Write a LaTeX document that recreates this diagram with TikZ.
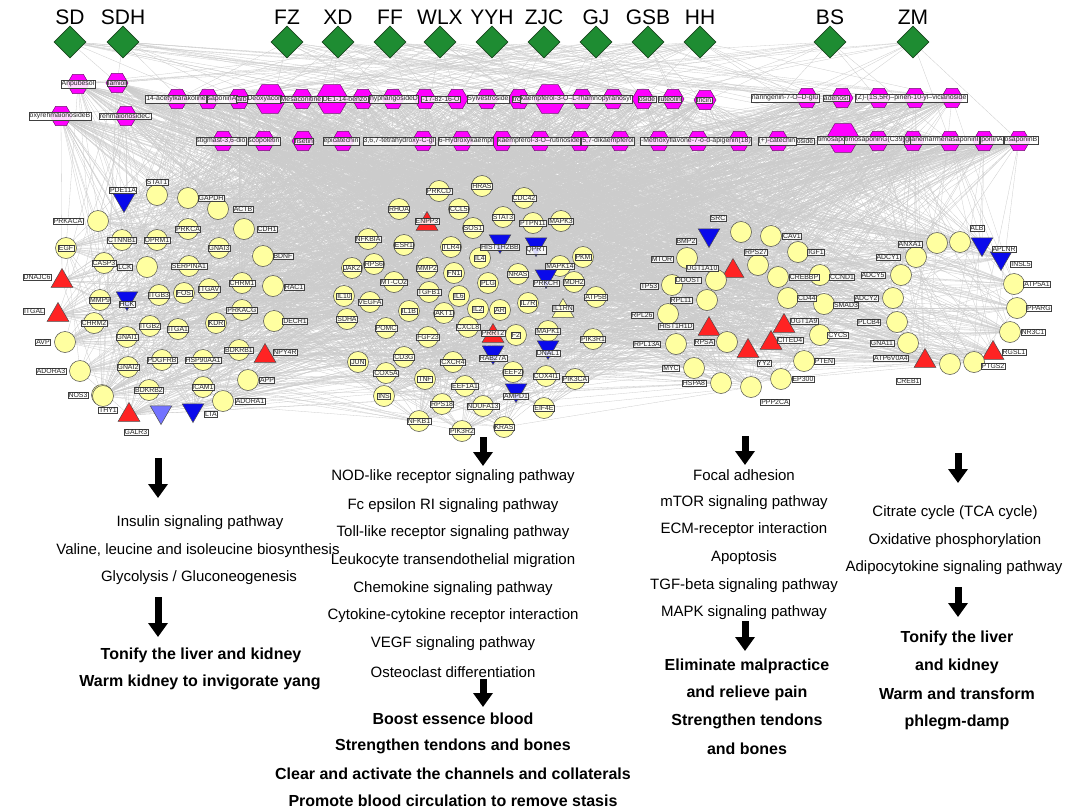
\documentclass[tikz,border=0pt]{standalone}
\usepackage{fontspec}
\setmainfont{Liberation Sans}
\usetikzlibrary{shapes.geometric,arrows.meta,backgrounds}
\definecolor{herbg}{RGB}{30,140,50}
\definecolor{herbd}{RGB}{25,70,30}
\definecolor{mag}{RGB}{255,0,255}
\definecolor{magd}{RGB}{110,20,110}
\definecolor{ylw}{RGB}{255,255,160}
\definecolor{redt}{RGB}{255,35,35}
\definecolor{bluet}{RGB}{10,10,235}
\definecolor{lbluet}{RGB}{115,115,255}
\definecolor{edgec}{RGB}{204,204,204}
\tikzset{
  herb/.style={diamond, aspect=1, fill=herbg, draw=herbd, line width=0.6pt, inner sep=0pt, minimum width=32pt, minimum height=32pt},
  herblab/.style={font=\fontsize{21}{24}\selectfont},
  hexa/.style={regular polygon, regular polygon sides=6, fill=mag, draw=magd, line width=0.5pt, inner sep=0pt, minimum size=22pt},
  bighexa/.style={hexa, minimum size=33pt},
  lab/.style={draw=black!75, fill=white, fill opacity=0.85, text opacity=1, text=black!85, line width=0.5pt, inner sep=0.7pt, font=\fontsize{6.9}{7}\selectfont},
  pc/.style={circle, fill=ylw, draw=black!70, line width=0.5pt, minimum size=21pt, inner sep=0pt},
  pr/.style={regular polygon, regular polygon sides=3, fill=redt, draw=black!70, line width=0.5pt, minimum size=25pt, inner sep=0pt, yshift=-3pt},
  py/.style={pr, fill=ylw},
  pb/.style={regular polygon, regular polygon sides=3, shape border rotate=180, fill=bluet, draw=black!70, line width=0.5pt, minimum size=25pt, inner sep=0pt, yshift=3pt},
  plb/.style={pb, fill=lbluet},
  link/.style={draw=edgec, line width=0.3pt},
  txt/.style={font=\fontsize{15}{18}\selectfont},
  btxt/.style={font=\bfseries\fontsize{16}{18}\selectfont},
  bigarrow/.style={line width=7pt, -{Triangle[length=14pt, width=19pt]}},
}
\def\plist{%
157/195/pc/STAT1/157/182,
124/203/pb/PDE11A/123/190,
188/198/pc/GAPDH/211/198,
218/209/pc/ACTB/243/209,
98/221/pc/PRKACA/68/221,
188/229/pc/PRKCA/188/229,
244/229/pc/CDH1/267/229,
66/248/pc/EGF/66/248,
122/240/pc/CTNNB1/122/240,
157/240/pc/OPRM1/157/240,
219/248/pc/GNAI3/219/248,
263/256/pc/BDNF/283/256,
104/263/pc/CASP3/104/263,
147/267/pc/LCK/125/267,
189/266/pc/SERPINA1/189/266,
62/278/pr/DNAJC6/37/277,
242/283/pc/CHRM1/242/283,
273/286/pc/RAC1/294/287,
100/300/pc/MMP9/100/300,
127/301/pb/HCK/127/304,
159/295/pc/ITGB3/159/295,
184/293/pc/FOS/184/293,
209/289/pc/ITGAV/209/289,
58/312/pr/ITGAL/34/311,
242/310/pc/PRKACG/242/310,
94/323/pc/CHRM2/94/323,
127/337/pc/GNAI1/127/337,
150/326/pc/ITGB2/150/326,
178/329/pc/ITGA1/178/329,
216/323/pc/KDR/216/323,
274/321/pc/DECR1/295/321,
65/342/pc/AVP/43/342,
162/360/pc/PDGFRB/162/360,
203/360/pc/HSP90AA1/203/360,
239/350/pc/BDKRB1/239/350,
265/353/pr/NPY4R/285/352,
80/371/pc/ADORA3/51/371,
128/367/pc/GNAI2/128/367,
248/380/pc/APP/267/380,
149/390/pc/BDKRB2/149/390,
203/387/pc/ICAM1/203/387,
102/395/pc/NOS3/78/395,
223/401/pc/ADORA1/250/401,
103/396/pc/THY1/108/410,
129/412/pr/GALR3/136/432,
193/413/pb/LTA/211/414,
439/191/pc/PRKCD/439/191,
482/186/pc/HRAS/482/186,
524/198/pc/CDC42/524/198,
399/209/pc/RHOA/399/209,
427/221/pr/ENPP3/427/221,
459/209/pc/CCL5/459/209,
503/217/pc/STAT3/503/217,
533/223/pc/PTPN11/533/223,
561/221/pc/MAPK3/561/221,
473/228/pc/SOS1/473/228,
368/239/pc/NFKBIA/368/239,
404/245/pc/ESR1/404/245,
451/247/pc/TLR4/451/247,
500/244/pb/HIST1H2BB/500/247,
536/247/pb/QPRT/536/250,
480/258/pc/IL4/480/258,
583/257/pc/PKM/583/257,
352/268/pc/JAK2/352/268,
374/264/pc/RPS6/374/264,
427/268/pc/MMP2/427/268,
454/273/pc/FN1/454/273,
518/274/pc/NRAS/518/274,
560/266/pc/MAPK14/560/266,
546/279/pb/PRKCH/546/283,
574/282/pc/MDH2/574/282,
394/282/pc/MT-CO2/394/282,
488/283/pc/PLG/488/283,
344/296/pc/IL10/344/296,
429/292/pc/TGFB1/429/292,
459/296/pc/IL6/459/296,
370/302/pc/VEGFA/370/302,
528/303/pc/IL7R/528/303,
563/308/py/IL1RN/563/308,
409/311/pc/IL1B/409/311,
444/313/pc/AKT1/444/313,
478/309/pc/IL2/478/309,
500/310/pc/AR/500/310,
596/297/pc/ATP5B/596/297,
347/319/pc/SDHA/347/319,
386/328/pc/POMC/386/328,
468/327/pc/CXCL8/468/327,
493/333/pr/PRRT2/493/333,
516/335/pc/F2/516/335,
548/331/pc/MAPK1/548/331,
428/337/pc/FGF23/428/337,
593/339/pc/PIK3R1/593/339,
548/350/pb/DNAL1/548/353,
493/355/pb/RAB27A/493/358,
404/357/pc/CD3G/404/357,
358/362/pc/JUN/358/362,
453/362/pc/CXCR4/453/362,
386/373/pc/COX5A/386/373,
425/379/pc/TNF/425/379,
513/372/pc/EEF2/513/372,
546/376/pc/COX4I1/546/376,
575/379/pc/PIK3CA/575/379,
465/386/pc/EEF1A1/465/386,
384/396/pc/INS/384/396,
516/393/pb/AMPD1/516/396,
442/404/pc/RPS18/442/404,
483/406/pc/NDUFA13/483/406,
544/408/pc/EIF4E/544/408,
419/421/pc/NFKB1/419/421,
462/431/pc/PIK3R2/462/431,
504/427/pc/KRAS/504/427,
741/232/pc/SRC/718/218,
709/238/pb/BMP2/686/241,
771/236/pc/CAV1/792/236,
798/252/pc/IGF1/816/252,
687/258/pc/MTOR/662/259,
758/265/pc/RPS27/756/252,
733/268/pr/UGT1A10/702/268,
716/280/pc/DDOST/688/280,
672/285/pc/TP53/649/286,
778/277/pc/CREBBP/804/277,
820/275/pc/CCND1/842/277,
707/300/pc/RPL11/681/300,
788/298/pc/CD44/807/298,
824/304/pc/SMAD3/846/305,
668/314/pc/RPL26/642/315,
709/326/pr/HIST1H1D/676/326,
784/323/pr/UGT1A9/804/321,
820/335/pc/CYCS/838/335,
676/344/pc/RPL13A/647/344,
727/342/pc/RPSA/704/342,
771/340/pr/CITED4/790/340,
748/348/pr/YY2/764/363,
804/361/pc/PTEN/824/361,
694/368/pc/MYC/671/368,
721/383/pc/HSPA8/694/383,
751/387/pc/PPP2CA/775/402,
781/379/pc/EP300/803/379,
960/242/pc/ALB/977/228,
937/243/pc/ANXA1/910/244,
982/247/pb/APLNR/1004/249,
1001/261/pb/INSL5/1021/264,
916/257/pc/ADCY1/888/257,
901/275/pc/ADCY5/873/275,
1014/284/pc/ATP5A1/1037/284,
893/298/pc/ADCY2/866/298,
1017/308/pc/PPARG/1039/308,
897/322/pc/PLCB4/869/322,
1010/332/pc/NR3C1/1033/332,
908/343/pc/GNA11/882/343,
993/350/pr/RGSL1/1014/352,
925/358/pr/ATP6V0A4/891/358,
950/364/pc/CREB1/908/381,
974/362/pc/PTGS2/993/366}
\def\clist{78/84/hexa,117/83/hexa,61/116/hexa,126/116/hexa,
177/99/hexa,208/99/hexa,239/99/hexa,270/99/bighexa,302/99/hexa,332/99/bighexa,363/99/hexa,393/99/hexa,425/99/hexa,457/99/hexa,487/99/hexa,519/99/hexa,550/99/bighexa,582/99/hexa,613/99/hexa,643/99/hexa,673/99/hexa,705/100/hexa,807/98/hexa,842/98/hexa,879/98/hexa,915/98/hexa,952/98/hexa,
223/141/hexa,264/141/hexa,303/141/hexa,343/141/hexa,423/141/hexa,462/141/hexa,502/141/hexa,540/141/hexa,580/141/hexa,620/141/hexa,659/141/hexa,698/141/hexa,739/141/hexa,778/141/hexa,843/138/bighexa,878/141/hexa,913/141/hexa,950/141/hexa,984/141/hexa,1019/141/hexa}
\def\cllist{78/84/Anpubesol,117/83/lamiol,60/116/oxyrehmaionosideB,125/116/rehmaionosideC,
176/99/14-acetylkarakoline,222/99/saponinA,242/99/alb,264/99/Deoxyacor,301/99/Mesaconitine,345/99/DE1-14-benzo,394/99/hyphangosideD,441/99/-17-8z-16-O,488/99/Sylvestroside,517/99/tro,576/99/kaempferol-3-O--L-rhamnopyranosyl,647/99/oside,670/99/luteolin,704/100/tricin,785/98/naringenin-7-O--D-glu,836/98/adenosi,911/98/{(Z)-(1S,5R)--pinen-10-yl--vicianoside},
221/141/{stigmast-3,6-dio},264/141/scopoletin,304/141/fisetin,341/141/epicatechin,399/141/{3,6,7-tetrahydroxy-C-gl},466/141/6-Hydroxykaempf,539/141/kaempferol-3-O--rutinoside,608/141/{5,7-dikaempferol},696/141/-Methoxyflavone-7-o-d-apigenin(18),777/141/(+)-catechin,805/141/oside,832/140/timosapo,875/140/timosaponinG(C39),908/140/gl,945/140/anemarrhenasaponinI,992/140/poninA,1021/140/osaponinB}
\begin{document}
\begin{tikzpicture}[x=1pt,y=-1pt]
\useasboundingbox (0,0) rectangle (1072,809);
% herbs
\foreach \x/\l [count=\i] in {70/SD,123/SDH,287/FZ,338/XD,390/FF,440/WLX,492/YYH,544/ZJC,596/GJ,648/GSB,700/HH,830/BS,913/ZM}{
  \node[herb] (h\i) at (\x,42) {};
  \node[herblab] (hl\i) at (\x,17) {\l};
}
% compounds
\foreach \x/\y/\s [count=\i] in \clist { \node[\s] (c\i) at (\x,\y) {}; }
% proteins
\foreach \x/\y/\t/\l/\lx/\ly [count=\i] in \plist { \node[\t] (p\i) at (\x,\y) {}; \xdef\np{\i} }
\node[plb] (p0) at (161,415) {};
% labels
\foreach \x/\y/\l [count=\i] in \cllist { \node[lab] (cl\i) at (\x,\y) {\l}; }
\foreach \x/\y/\t/\l/\lx/\ly [count=\i] in \plist { \node[lab] (pl\i) at (\lx,\ly) {\l}; }
% edges
\begin{pgfonlayer}{background}
\fill[white] (0,0) rectangle (1072,809);
\pgfmathsetseed{11}
\foreach \i in {1,...,13}{\foreach \j in {1,...,47}{
  \pgfmathrandominteger{\r}{1}{100}
  \ifnum\r<26 \draw[link] (h\i) -- (c\j);\fi }}
\foreach \i in {1,...,47}{\foreach \j in {1,...,\np}{
  \pgfmathrandominteger{\r}{1}{100}
  \ifnum\r<29 \draw[link] (c\i) -- (p\j);\fi }}
\foreach \k in {1,...,900}{
  \pgfmathrandominteger{\a}{1}{\np}
  \pgfmathrandominteger{\b}{1}{\np}
  \ifnum\a=\b\relax\else\draw[link] (p\a) -- (p\b);\fi }
\foreach \j in {3,9,17,22,28}{\draw[link] (c\j) -- (p0);}
\end{pgfonlayer}
% arrows
\coordinate (a1s) at (158,458); \coordinate (a1e) at (158,498);
\coordinate (a2s) at (158,597); \coordinate (a2e) at (158,637);
\coordinate (b1s) at (483,437); \coordinate (b1e) at (483,466);
\coordinate (b2s) at (483,679); \coordinate (b2e) at (483,707);
\coordinate (c1s) at (745,436); \coordinate (c1e) at (745,465);
\coordinate (c2s) at (745,621); \coordinate (c2e) at (745,651);
\coordinate (d1s) at (958,453); \coordinate (d1e) at (958,483);
\coordinate (d2s) at (958,587); \coordinate (d2e) at (958,617);
\foreach \p in {a1,a2,b1,b2,c1,c2,d1,d2}{\draw[bigarrow] (\p s) -- (\p e);}
% texts column 1
\node[txt] (t11) at (200,523) {Insulin signaling pathway};
\node[txt] (t12) at (198,551) {Valine, leucine and isoleucine biosynthesis};
\node[txt] (t13) at (199,578) {Glycolysis / Gluconeogenesis};
\node[btxt] (t14) at (201,655) {Tonify the liver and kidney};
\node[btxt] (t15) at (200,682) {Warm kidney to invigorate yang};
% column 2
\node[txt] (t21) at (453,477) {NOD-like receptor signaling pathway};
\node[txt] (t22) at (453,506) {Fc epsilon RI signaling pathway};
\node[txt] (t23) at (453,533) {Toll-like receptor signaling pathway};
\node[txt] (t24) at (453,561) {Leukocyte transendothelial migration};
\node[txt] (t25) at (453,589) {Chemokine signaling pathway};
\node[txt] (t26) at (453,616) {Cytokine-cytokine receptor interaction};
\node[txt] (t27) at (453,644) {VEGF signaling pathway};
\node[txt] (t28) at (453,672) {Osteoclast differentiation};
\node[btxt] (t29) at (453,719) {Boost essence blood};
\node[btxt] (t2a) at (453,746) {Strengthen tendons and bones};
\node[btxt] (t2b) at (453,774) {Clear and activate the channels and collaterals};
\node[btxt] (t2c) at (453,801) {Promote blood circulation to remove stasis};
% column 3
\node[txt] (t31) at (744,475) {Focal adhesion};
\node[txt] (t32) at (744,503) {mTOR signaling pathway};
\node[txt] (t33) at (744,530) {ECM-receptor interaction};
\node[txt] (t34) at (744,558) {Apoptosis};
\node[txt] (t35) at (744,586) {TGF-beta signaling pathway};
\node[txt] (t36) at (744,613) {MAPK signaling pathway};
\node[btxt] (t37) at (747,666) {Eliminate malpractice};
\node[btxt] (t38) at (747,693) {and relieve pain};
\node[btxt] (t39) at (747,721) {Strengthen tendons};
\node[btxt] (t3a) at (747,749) {and bones};
% column 4
\node[txt] (t41) at (955,513) {Citrate cycle (TCA cycle)};
\node[txt] (t42) at (955,541) {Oxidative phosphorylation};
\node[txt] (t43) at (954,568) {Adipocytokine signaling pathway};
\node[btxt] (t44) at (957,638) {Tonify the liver};
\node[btxt] (t45) at (957,666) {and kidney};
\node[btxt] (t46) at (957,694) {Warm and transform};
\node[btxt] (t47) at (957,722) {phlegm-damp};
\end{tikzpicture}
\end{document}
